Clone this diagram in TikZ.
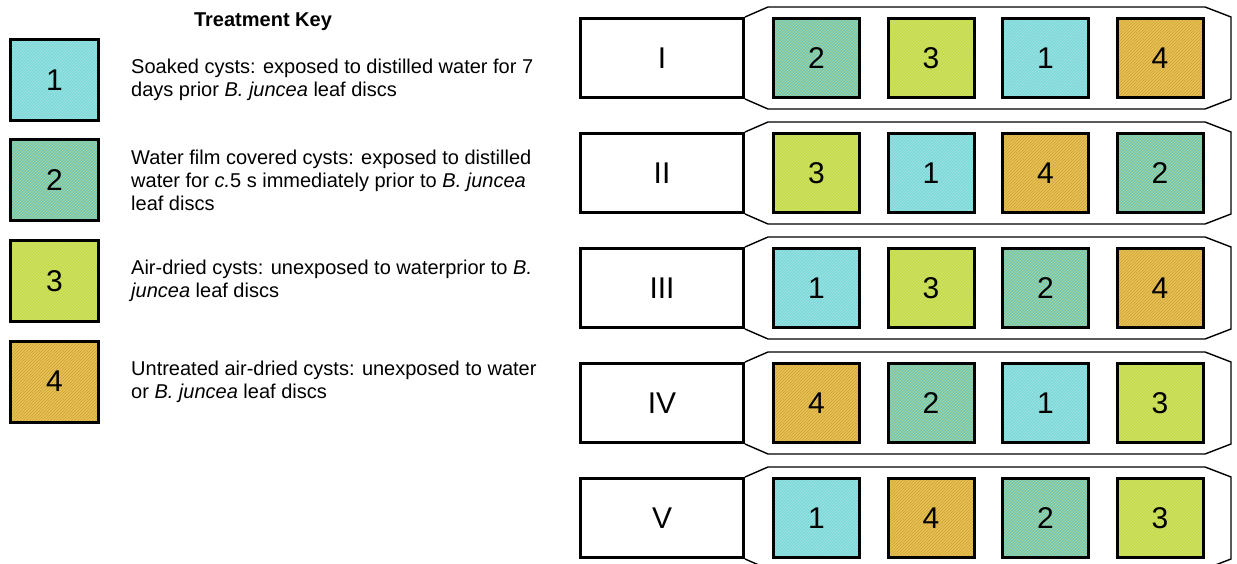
\documentclass[tikz,border=0pt]{standalone}
\usepackage{fontspec}
\setmainfont{Liberation Sans}
\usepackage{tikz}
\usetikzlibrary{positioning,patterns}
\usepackage{xcolor}
\definecolor{tone1}{HTML}{7DD8D8}
\definecolor{tone1ln}{HTML}{A6E6E6}
\definecolor{tone2}{HTML}{74C6B8}
\definecolor{tone2ln}{HTML}{B0D890}
\definecolor{tone3}{HTML}{C6DC48}
\definecolor{tone3ln}{HTML}{D2E274}
\definecolor{tone4}{HTML}{EAC250}
\definecolor{tone4ln}{HTML}{CAA240}
\tikzset{
  trt/.style={fill=#1,line width=3pt,outer sep=1.5pt,inner sep=0pt,
    postaction={pattern=north east lines,pattern color=#1ln},postaction={draw},
    minimum width=86pt,minimum height=79pt,font=\fontsize{30}{30}\selectfont},
  keycell/.style={minimum width=88pt,minimum height=81pt},
  rowlab/.style={draw,fill=white,line width=3pt,outer sep=1.5pt,inner sep=0pt,
    minimum width=163pt,minimum height=79pt,font=\fontsize{30}{30}\selectfont},
  keytxt/.style={align=left,inner sep=0pt,font=\fontsize{20}{23}\selectfont},
  tray/.style={line width=1.4pt},
}
\begin{document}
\begin{tikzpicture}[x=1pt,y=-1pt,node distance=25.5pt]
  \useasboundingbox (0,0) rectangle (1237,564);
  % key
  \node[font=\bfseries\fontsize{20}{24}\selectfont,anchor=base] (keytitle) at (263,27) {Treatment Key};
  \node[trt=tone1,keycell] (k1) at (54.5,80) {1};
  \node[trt=tone2,keycell] (k2) at (54.5,180.5) {2};
  \node[trt=tone3,keycell] (k3) at (54.5,281) {3};
  \node[trt=tone4,keycell] (k4) at (54.5,381.5) {4};
  \node[keytxt,right=31pt of k1] (d1) {Soaked cysts: exposed to distilled water for 7\\days prior \textit{B. juncea} leaf discs};
  \node[keytxt,right=31pt of k2] (d2) {Water film covered cysts: exposed to distilled\\water for \textit{c.}5 s immediately prior to \textit{B. juncea}\\leaf discs};
  \node[keytxt,right=31pt of k3] (d3) {Air-dried cysts: unexposed to waterprior to \textit{B.}\\\textit{juncea} leaf discs};
  \node[keytxt,right=31pt of k4] (d4) {Untreated air-dried cysts: unexposed to water\\or \textit{B. juncea} leaf discs};

  % rows
  \node[rowlab] (lab1) at (662,58) {I};
  \node[trt=tone2,right=27pt of lab1] (r1a) {2};
  \node[trt=tone3,right=of r1a] (r1b) {3};
  \node[trt=tone1,right=of r1b] (r1c) {1};
  \node[trt=tone4,right=of r1c] (r1d) {4};
  \draw[tray] (lab1.north east) -- ++(23,-10) -- ++(437,0) -- ++(26,10) -- ++(0,82) -- ++(-26,10) -- ++(-437,0) -- (lab1.south east);

  \node[rowlab] (lab2) at (662,173) {II};
  \node[trt=tone3,right=27pt of lab2] (r2a) {3};
  \node[trt=tone1,right=of r2a] (r2b) {1};
  \node[trt=tone4,right=of r2b] (r2c) {4};
  \node[trt=tone2,right=of r2c] (r2d) {2};
  \draw[tray] (lab2.north east) -- ++(23,-10) -- ++(437,0) -- ++(26,10) -- ++(0,82) -- ++(-26,10) -- ++(-437,0) -- (lab2.south east);

  \node[rowlab] (lab3) at (662,288) {III};
  \node[trt=tone1,right=27pt of lab3] (r3a) {1};
  \node[trt=tone3,right=of r3a] (r3b) {3};
  \node[trt=tone2,right=of r3b] (r3c) {2};
  \node[trt=tone4,right=of r3c] (r3d) {4};
  \draw[tray] (lab3.north east) -- ++(23,-10) -- ++(437,0) -- ++(26,10) -- ++(0,82) -- ++(-26,10) -- ++(-437,0) -- (lab3.south east);

  \node[rowlab] (lab4) at (662,403) {IV};
  \node[trt=tone4,right=27pt of lab4] (r4a) {4};
  \node[trt=tone2,right=of r4a] (r4b) {2};
  \node[trt=tone1,right=of r4b] (r4c) {1};
  \node[trt=tone3,right=of r4c] (r4d) {3};
  \draw[tray] (lab4.north east) -- ++(23,-10) -- ++(437,0) -- ++(26,10) -- ++(0,82) -- ++(-26,10) -- ++(-437,0) -- (lab4.south east);

  \node[rowlab] (lab5) at (662,518) {V};
  \node[trt=tone1,right=27pt of lab5] (r5a) {1};
  \node[trt=tone4,right=of r5a] (r5b) {4};
  \node[trt=tone2,right=of r5b] (r5c) {2};
  \node[trt=tone3,right=of r5c] (r5d) {3};
  \draw[tray] (lab5.north east) -- ++(23,-10) -- ++(437,0) -- ++(26,10) -- ++(0,82) -- ++(-26,10) -- ++(-437,0) -- (lab5.south east);
\end{tikzpicture}
\end{document}
